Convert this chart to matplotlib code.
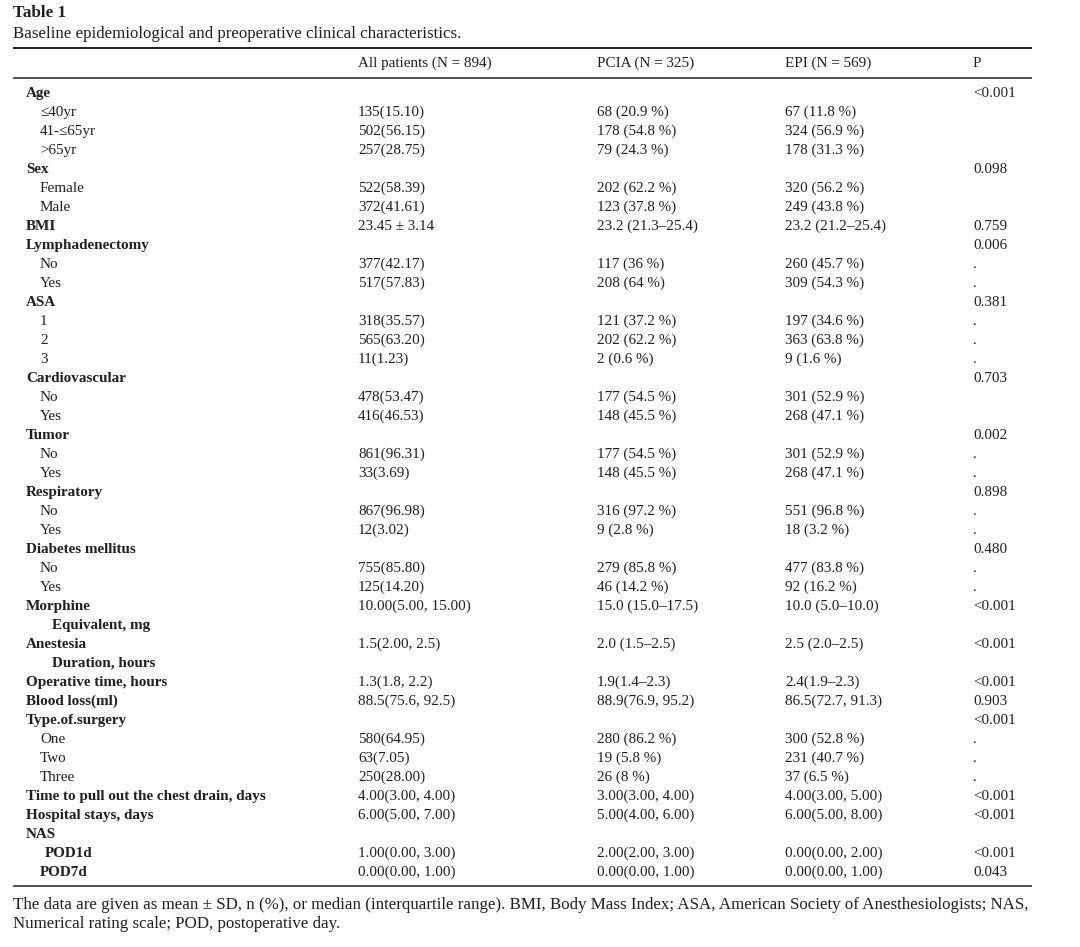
import matplotlib
matplotlib.use("Agg")
import matplotlib.pyplot as plt

plt.rcParams['font.family'] = ['Liberation Serif', 'DejaVu Serif']

table_label = "Table 1"
caption = "Baseline epidemiological and preoperative clinical characteristics."
headers = ["All patients (N = 894)", "PCIA (N = 325)", "EPI (N = 569)", "P"]

row_labels = ["Age", "\u226440yr", "41-\u226465yr", ">65yr",
              "Sex", "Female", "Male",
              "BMI",
              "Lymphadenectomy", "No", "Yes",
              "ASA", "1", "2", "3",
              "Cardiovascular", "No", "Yes",
              "Tumor", "No", "Yes",
              "Respiratory", "No", "Yes",
              "Diabetes mellitus", "No", "Yes",
              "Morphine", "Equivalent, mg",
              "Anestesia", "Duration, hours",
              "Operative time, hours",
              "Blood loss(ml)",
              "Type.of.surgery", "One", "Two", "Three",
              "Time to pull out the chest drain, days",
              "Hospital stays, days",
              "NAS", "POD1d", "POD7d"]

all_patients = ["", "135(15.10)", "502(56.15)", "257(28.75)",
                "", "522(58.39)", "372(41.61)",
                "23.45 \u00b1 3.14",
                "", "377(42.17)", "517(57.83)",
                "", "318(35.57)", "565(63.20)", "11(1.23)",
                "", "478(53.47)", "416(46.53)",
                "", "861(96.31)", "33(3.69)",
                "", "867(96.98)", "12(3.02)",
                "", "755(85.80)", "125(14.20)",
                "10.00(5.00, 15.00)", "",
                "1.5(2.00, 2.5)", "",
                "1.3(1.8, 2.2)",
                "88.5(75.6, 92.5)",
                "", "580(64.95)", "63(7.05)", "250(28.00)",
                "4.00(3.00, 4.00)",
                "6.00(5.00, 7.00)",
                "", "1.00(0.00, 3.00)", "0.00(0.00, 1.00)"]

pcia = ["", "68 (20.9 %)", "178 (54.8 %)", "79 (24.3 %)",
        "", "202 (62.2 %)", "123 (37.8 %)",
        "23.2 (21.3\u201325.4)",
        "", "117 (36 %)", "208 (64 %)",
        "", "121 (37.2 %)", "202 (62.2 %)", "2 (0.6 %)",
        "", "177 (54.5 %)", "148 (45.5 %)",
        "", "177 (54.5 %)", "148 (45.5 %)",
        "", "316 (97.2 %)", "9 (2.8 %)",
        "", "279 (85.8 %)", "46 (14.2 %)",
        "15.0 (15.0\u201317.5)", "",
        "2.0 (1.5\u20132.5)", "",
        "1.9(1.4\u20132.3)",
        "88.9(76.9, 95.2)",
        "", "280 (86.2 %)", "19 (5.8 %)", "26 (8 %)",
        "3.00(3.00, 4.00)",
        "5.00(4.00, 6.00)",
        "", "2.00(2.00, 3.00)", "0.00(0.00, 1.00)"]

epi = ["", "67 (11.8 %)", "324 (56.9 %)", "178 (31.3 %)",
       "", "320 (56.2 %)", "249 (43.8 %)",
       "23.2 (21.2\u201325.4)",
       "", "260 (45.7 %)", "309 (54.3 %)",
       "", "197 (34.6 %)", "363 (63.8 %)", "9 (1.6 %)",
       "", "301 (52.9 %)", "268 (47.1 %)",
       "", "301 (52.9 %)", "268 (47.1 %)",
       "", "551 (96.8 %)", "18 (3.2 %)",
       "", "477 (83.8 %)", "92 (16.2 %)",
       "10.0 (5.0\u201310.0)", "",
       "2.5 (2.0\u20132.5)", "",
       "2.4(1.9\u20132.3)",
       "86.5(72.7, 91.3)",
       "", "300 (52.8 %)", "231 (40.7 %)", "37 (6.5 %)",
       "4.00(3.00, 5.00)",
       "6.00(5.00, 8.00)",
       "", "0.00(0.00, 2.00)", "0.00(0.00, 1.00)"]

p_values = ["<0.001", "", "", "",
            "0.098", "", "",
            "0.759",
            "0.006", ".", ".",
            "0.381", ".", ".", ".",
            "0.703", "", "",
            "0.002", ".", ".",
            "0.898", ".", ".",
            "0.480", ".", ".",
            "<0.001", "",
            "<0.001", "",
            "<0.001",
            "0.903",
            "<0.001", ".", ".", ".",
            "<0.001",
            "<0.001",
            "", "<0.001", "0.043"]

footnote = ["The data are given as mean \u00b1 SD, n (%), or median (interquartile range). BMI, Body Mass Index; ASA, American Society of Anesthesiologists; NAS,",
            "Numerical rating scale; POD, postoperative day."]

# style per row: 'b' bold category, 'i' indented plain, 'c' bold continuation, 'p1','p2' bold sub
row_style = ['b', 'i', 'i', 'i',
             'b', 'i', 'i',
             'b',
             'b', 'i', 'i',
             'b', 'i', 'i', 'i',
             'b', 'i', 'i',
             'b', 'i', 'i',
             'b', 'i', 'i',
             'b', 'i', 'i',
             'b', 'c',
             'b', 'c',
             'b',
             'b',
             'b', 'i', 'i', 'i',
             'b',
             'b',
             'b', 'p1', 'p2']

W, H = 1080, 947
fig = plt.figure(figsize=(W / 100, H / 100), dpi=100)
ax = fig.add_axes([0, 0, 1, 1])
ax.set_xlim(0, W)
ax.set_ylim(H, 0)
ax.axis('off')

col = '#231f20'
fs = 10.9
x_label = {'b': 26, 'i': 40, 'c': 52, 'p1': 45, 'p2': 40}
col_x = [358, 597, 785, 973]

ax.text(13, 13, table_label, fontsize=12.3, fontweight='bold', color=col, va='center', ha='left')
ax.text(13, 34, caption, fontsize=12.2, color=col, va='center', ha='left')

ax.plot([13, 1032], [48, 48], color=col, lw=1.4, solid_capstyle='butt')
ax.plot([13, 1032], [78, 78], color=col, lw=1.1, solid_capstyle='butt')

for x, h in zip(col_x, headers):
    ax.text(x, 63, h, fontsize=fs, color=col, va='center', ha='left')

y0, dy = 93, 19
for i, lab in enumerate(row_labels):
    y = y0 + i * dy
    st = row_style[i]
    ax.text(x_label[st], y, lab, fontsize=fs, color=col, va='center', ha='left',
            fontweight='normal' if st == 'i' else 'bold')
    for x, vals in zip(col_x, [all_patients, pcia, epi, p_values]):
        v = vals[i]
        if v:
            ax.text(x, y, v, fontsize=fs, color=col, va='center', ha='left')

y_end = y0 + (len(row_labels) - 1) * dy + 14
ax.plot([13, 1032], [y_end, y_end], color=col, lw=1.1, solid_capstyle='butt')

for k, line in enumerate(footnote):
    ax.text(13, 905 + k * 19, line, fontsize=12.2, color=col, va='center', ha='left')

fig.savefig('out.png', dpi=100, facecolor='white')
